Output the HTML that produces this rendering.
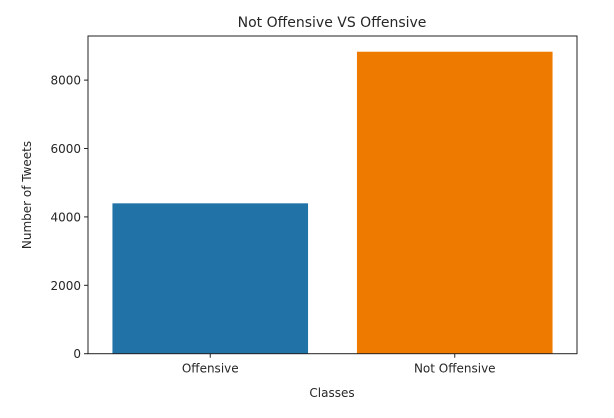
<!DOCTYPE html>
<html><head><meta charset="utf-8"><style>
body{margin:0;background:#fff;font-family:"Liberation Sans","DejaVu Sans",sans-serif;}
svg text{font-family:"DejaVu Sans","Liberation Sans",sans-serif;fill:#262626;}
</style></head><body>
<svg id="chart" width="614" height="413">
<text x="332" y="27" font-size="14" text-anchor="middle">Not Offensive VS Offensive</text>
<g id="bars"></g><g id="yticks"></g><g id="xticks"></g>
<rect x="88" y="36" width="489" height="317.7" fill="none" stroke="#222" stroke-width="1"/>
<text x="332" y="397" font-size="12" text-anchor="middle">Classes</text>
<text transform="translate(31,195) rotate(-90)" font-size="12" text-anchor="middle">Number of Tweets</text>
</svg>
<script>
const categories=["Offensive","Not Offensive"];
const values=[4397,8830];
const colors=["#2172a6","#ef7a00"];
const yTicks=[0,2000,4000,6000,8000];
const L=88,R=577,T=36,B=353.7,yMax=9290;
const ns="http://www.w3.org/2000/svg";
const x=i=>L+(i+0.5)/2*(R-L);
const y=v=>B-v/yMax*(B-T);
const bw=0.8/2*(R-L);
function mk(t,a,p){const e=document.createElementNS(ns,t);for(const k in a)e.setAttribute(k,a[k]);p.appendChild(e);return e;}
const gb=document.getElementById('bars'),gy=document.getElementById('yticks'),gx=document.getElementById('xticks');
values.forEach((v,i)=>{
 const r=mk('rect',{x:x(i)-bw/2,y:y(v),width:bw,height:B-y(v),fill:colors[i]},gb);
 
 
 mk('line',{x1:x(i),x2:x(i),y1:B,y2:B+4,stroke:'#222'},gx);
 const t=mk('text',{x:x(i),y:B+19,'font-size':12,'text-anchor':'middle'},gx);
 t.textContent=categories[i];
 
 
});
yTicks.forEach(v=>{
 mk('line',{x1:L-4,x2:L,y1:y(v),y2:y(v),stroke:'#222'},gy);
 const t=mk('text',{x:L-7,y:y(v)+4.5,'font-size':12,'text-anchor':'end'},gy);
 t.textContent=v;
 
 
});
</script>
</body></html>
